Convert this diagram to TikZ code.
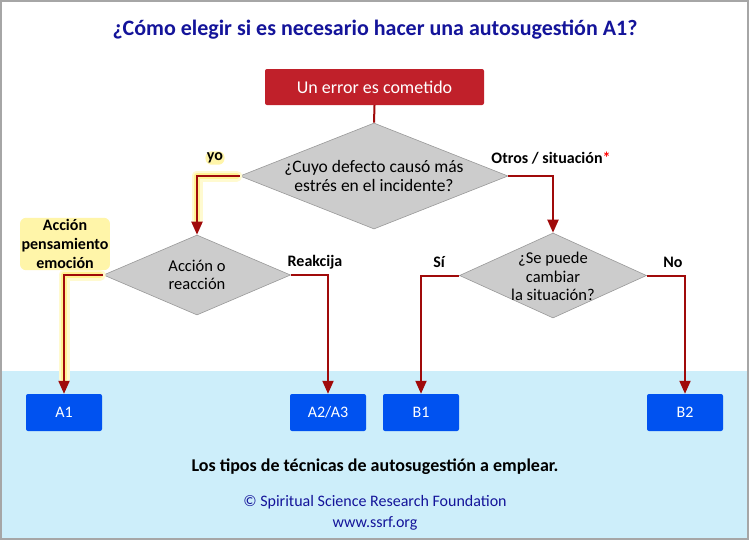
\documentclass[tikz,border=0pt]{standalone}
\usepackage{fontspec}
\setmainfont{Carlito}
\usetikzlibrary{shapes.geometric,arrows.meta}
\definecolor{titleblue}{HTML}{14149A}
\definecolor{errred}{HTML}{C0202A}
\definecolor{linered}{HTML}{A00A0A}
\definecolor{boxblue}{HTML}{0052F0}
\definecolor{band}{HTML}{CDEEFA}
\definecolor{dgray}{HTML}{CCCCCC}
\definecolor{hl}{HTML}{FFF07A}
\tikzset{
  dec/.style={diamond, fill=dgray, draw=gray!80, line width=0.6pt, inner sep=0pt},
  dtext/.style={align=center, font=\fontsize{16.5}{18.5}\selectfont},
  resbox/.style={rectangle, fill=boxblue, rounded corners=2pt, minimum width=76pt, minimum height=37pt, text=white, font=\fontsize{16}{19}\selectfont},
  conn/.style={draw=linered, line width=2pt, -{Triangle[length=13pt,width=11pt]}},
  glow1/.style={draw=hl!35, line width=11pt, line join=round, line cap=round},
  glow2/.style={draw=hl!80, line width=6pt, line join=round, line cap=round},
  lab/.style={font=\bfseries\fontsize{16}{19}\selectfont, align=center},
  hllab/.style={lab, fill=hl!65, rounded corners=6pt, inner sep=1.5pt}
}
\begin{document}
\begin{tikzpicture}[x=1pt,y=-1pt]
\useasboundingbox (0,0) rectangle (750,541);
\fill[white] (0,0) rectangle (750,541);
\fill[band] (1,371) rectangle (748,539);
\draw[gray!70, line width=1.5pt] (1,1) rectangle (748,539);

\node[font=\bfseries\fontsize{22}{25}\selectfont, text=titleblue] (title) at (375,30) {¿Cómo elegir si es necesario hacer una autosugestión A1?};

\node[rectangle, fill=errred, rounded corners=2pt, minimum width=219pt, minimum height=36pt, text=white, font=\fontsize{18}{21}\selectfont] (err) at (374.5,87) {Un error es cometido};

\node[dec, aspect=2.53, minimum width=268pt, minimum height=106pt] (d1) at (374,176) {};
\node[dtext, font=\fontsize{17.5}{19}\selectfont] (t1) at (d1.center) {¿Cuyo defecto causó más\\estrés en el incidente?};
\node[dec, aspect=2.34, minimum width=187pt, minimum height=80pt] (d2) at (197,275) {};
\node[dtext] (t2) at (d2.center) {Acción o\\reacción};
\node[dec, aspect=2.2, minimum width=187pt, minimum height=85pt] (d3) at (553,275.5) {};
\node[dtext] (t3) at ([yshift=-1pt]d3.center) {¿Se puede\\cambiar\\la situación?};

\node[resbox] (a1) at (64,412.5) {A1};
\node[resbox] (a23) at (328,412.5) {A2/A3};
\node[resbox] (b1) at (421,412.5) {B1};
\node[resbox] (b2) at (685,412.5) {B2};

% glows (yshift is in page units: positive = upward)
\path[glow1] ([xshift=-3pt]d1.west) -| ([yshift=15pt]d2.north);
\path[glow2] ([xshift=-3pt]d1.west) -| ([yshift=15pt]d2.north);
\path[glow1] ([xshift=-3pt]d2.west) -| ([yshift=15pt]a1.north);
\path[glow2] ([xshift=-3pt]d2.west) -| ([yshift=15pt]a1.north);

\draw[draw=linered, line width=2pt] (err.south) -- (d1.north);
\draw[conn] (d1.west) -| (d2.north);
\draw[conn] (d1.east) -| (d3.north);
\draw[conn] (d2.west) -| (a1.north);
\draw[conn] (d2.east) -| (a23.north);
\draw[conn] (d3.west) -| (b1.north);
\draw[conn] (d3.east) -| (b2.north);

\node[hllab] (lyo) at (215,158) {yo};
\node[lab] (lotros) at (551,158) {Otros / situación\textcolor{red}{*}};
\node[hllab] (lacc) at (65,244) {Acción\\pensamiento\\emoción};
\node[lab] (lreak) at (315,262) {Reakcija};
\node[lab] (lsi) at (439,262) {Sí};
\node[lab] (lno) at (673,262) {No};

\node[font=\bfseries\fontsize{18}{21}\selectfont] (tipos) at (375,467) {Los tipos de técnicas de autosugestión a emplear.};
\node[font=\fontsize{16}{19}\selectfont, text=titleblue] (copy) at (375,502) {© Spiritual Science Research Foundation};
\node[font=\fontsize{16}{19}\selectfont, text=titleblue] (www) at (375,523) {www.ssrf.org};
\end{tikzpicture}
\end{document}
